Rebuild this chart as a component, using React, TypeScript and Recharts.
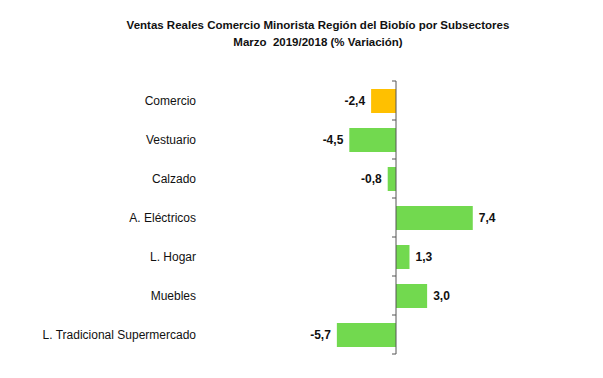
import { Bar, BarChart, Cell, LabelList, ReferenceLine, XAxis, YAxis } from "recharts"

const subsectores = [
  "Comercio",
  "Vestuario",
  "Calzado",
  "A. Eléctricos",
  "L. Hogar",
  "Muebles",
  "L. Tradicional Supermercado",
]
const variacion = [-2.4, -4.5, -0.8, 7.4, 1.3, 3.0, -5.7]
const colores = ["#FFC000", "#72D94F", "#72D94F", "#72D94F", "#72D94F", "#72D94F", "#72D94F"]

const data = subsectores.map((name, i) => ({ name, value: variacion[i] }))

const font = "'Liberation Sans', Arial, sans-serif"

const fmt = (v: number) => v.toFixed(1).replace(".", ",")

function ValueLabel(props: any) {
  const { x, y, width, height, value } = props
  const neg = value < 0
  // bar end: for negatives the bar is drawn from zero to the left
  const left = Math.min(x, x + width)
  const right = Math.max(x, x + width)
  return (
    <text
      x={neg ? left - 6 : right + 6}
      y={y + height / 2}
      dy="0.35em"
      textAnchor={neg ? "end" : "start"}
      fontSize={12}
      fontWeight="bold"
      fontFamily={font}
      fill="#111"
    >
      {fmt(value)}
    </text>
  )
}

function ZeroAxis(props: any) {
  const { x1, y1, x2, y2 } = props
  const n = subsectores.length
  const step = (y2 - y1) / n
  const ticks = Array.from({ length: n + 1 }, (_, i) => y1 + i * step)
  return (
    <g>
      <line x1={x1} y1={y1} x2={x2} y2={y2} stroke="#555" strokeWidth={1} />
      {ticks.map((t, i) => (
        <line key={i} x1={x1 - 4} y1={t} x2={x1} y2={t} stroke="#555" strokeWidth={1} />
      ))}
    </g>
  )
}

export default function App() {
  return (
    <div style={{ position: "absolute", left: 0, top: 0, width: 603, height: 378, background: "#fff" }}>
      <div
        style={{
          position: "absolute",
          left: 118,
          width: 400,
          top: 17,
          textAlign: "center",
          fontFamily: font,
          fontWeight: "bold",
          fontSize: 11.5,
          lineHeight: "17px",
          color: "#111",
          whiteSpace: "pre",
        }}
      >
        {"Ventas Reales Comercio Minorista Región del Biobío por Subsectores\nMarzo  2019/2018 (% Variación)"}
      </div>
      <BarChart
        width={603}
        height={378}
        data={data}
        layout="vertical"
        margin={{ top: 81, right: 124, bottom: 24, left: 0 }}
        barSize={24}
      >
        <XAxis type="number" domain={[-8, 8]} hide />
        <YAxis
          type="category"
          dataKey="name"
          width={313}
          axisLine={false}
          tickLine={false}
          tickSize={0}
          tickMargin={117}
          interval={0}
          tick={{ fontSize: 12, fontFamily: font, fill: "#111" }}
        />
        <Bar dataKey="value" isAnimationActive={false}>
          {data.map((d, i) => (
            <Cell key={d.name} fill={colores[i]} />
          ))}
          <LabelList dataKey="value" content={ValueLabel} />
        </Bar>
        <ReferenceLine x={0} shape={ZeroAxis} />
      </BarChart>
    </div>
  )
}
